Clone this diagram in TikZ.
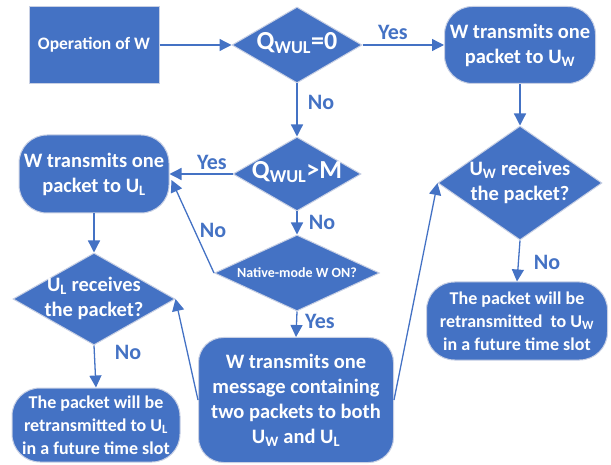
\documentclass[tikz,border=0pt]{standalone}
\usepackage{fontspec}
\setmainfont{Carlito}
\usetikzlibrary{shapes.geometric,arrows.meta,calc}
\definecolor{ob}{HTML}{4472C4}
\definecolor{edgec}{RGB}{200,208,228}
\newcommand\dtext[1]{\makebox[0pt]{\smash{\raisebox{-0.25em}{\begin{tabular}{@{}c@{}}#1\end{tabular}}}}}
\begin{document}
\begin{tikzpicture}[x=1pt,y=-1pt,
 box/.style={fill=ob,draw=edgec,line width=1pt,text=white,align=center,inner sep=0pt},
 f20/.style={font=\fontsize{20.5}{25}\selectfont\bfseries},
 rbox/.style={box,f20,rounded corners=28pt},
 dia/.style={box,shape=diamond,f20},
 conn/.style={draw=ob,line width=1.3pt,-{Triangle[length=12pt,width=12pt]}},
 lab/.style={text=ob,font=\fontsize{22}{26}\selectfont\bfseries,inner sep=0pt}]
\useasboundingbox (0,0) rectangle (611,465);

\node[box,font=\fontsize{17.5}{21}\selectfont\bfseries,minimum width=130pt,minimum height=77pt] (op) at (94,45) {Operation of W};
\node[dia,minimum width=130pt,minimum height=76pt] (q0) at (297,45) {\dtext{\fontsize{26}{30}\selectfont Q\textsubscript{WUL}=0}};
\node[rbox,minimum width=151pt,minimum height=77pt] (uwbox) at (520,45) {W transmits one\\packet to U\textsubscript{W}};
\node[dia,minimum width=128pt,minimum height=74pt] (qm) at (297,174) {\dtext{\fontsize{26}{30}\selectfont Q\textsubscript{WUL}>M}};
\node[rbox,minimum width=150pt,minimum height=78pt] (ulbox) at (94,174) {W transmits one\\packet to U\textsubscript{L}};
\node[dia,minimum width=165pt,minimum height=76pt] (nat) at (297,273) {\dtext{\fontsize{14}{17}\selectfont Native-mode W ON?}};
\node[rbox,rounded corners=25pt,minimum width=195pt,minimum height=125pt] (big) at (296,400) {W transmits one\\message containing\\two packets to both\\U\textsubscript{W} and U\textsubscript{L}};
\node[dia,minimum width=162pt,minimum height=92pt] (uld) at (94,299) {\dtext{U\textsubscript{L} receives\\the packet?}};
\node[dia,minimum width=164pt,minimum height=114pt] (uwd) at (520,183) {\dtext{U\textsubscript{W} receives\\the packet?}};
\node[rbox,font=\fontsize{18}{23}\selectfont\bfseries,minimum width=168pt,minimum height=74pt] (blbox) at (96,425) {The packet will be\\retransmitted to U\textsubscript{L}\\in a future time slot};
\node[rbox,font=\fontsize{18}{23}\selectfont\bfseries,minimum width=181pt,minimum height=78pt] (brbox) at (517,321) {The packet will be\\retransmitted~ to U\textsubscript{W}\\in a future time slot};

\draw[conn] (op.east) -- (q0.west);
\draw[conn] (q0.east) -- (uwbox.west);
\draw[conn] (q0.south) -- (qm.north);
\draw[conn] (qm.west) -- (ulbox.east);
\draw[conn] (qm.south) -- (nat.north);
\draw[conn] (nat.west) -- ($(ulbox.east)+(2,6)$);
\draw[conn] (nat.south) -- (big.north);
\draw[conn] (ulbox.south) -- (uld.north);
\draw[conn] (big.west) -- (uld.east);
\draw[conn] (uld.south) -- (blbox.north);
\draw[conn] (uwbox.south) -- (uwd.north);
\draw[conn] (big.east) -- (uwd.west);
\draw[conn] (uwd.south) -- (brbox.north);

\node[lab] (l1) at (393,32) {Yes};
\node[lab] (l2) at (321,102) {No};
\node[lab] (l3) at (212,162) {Yes};
\node[lab] (l4) at (322,222) {No};
\node[lab] (l5) at (213,230) {No};
\node[lab] (l6) at (320,321) {Yes};
\node[lab] (l7) at (128,352) {No};
\node[lab] (l8) at (547,262) {No};
\end{tikzpicture}
\end{document}
